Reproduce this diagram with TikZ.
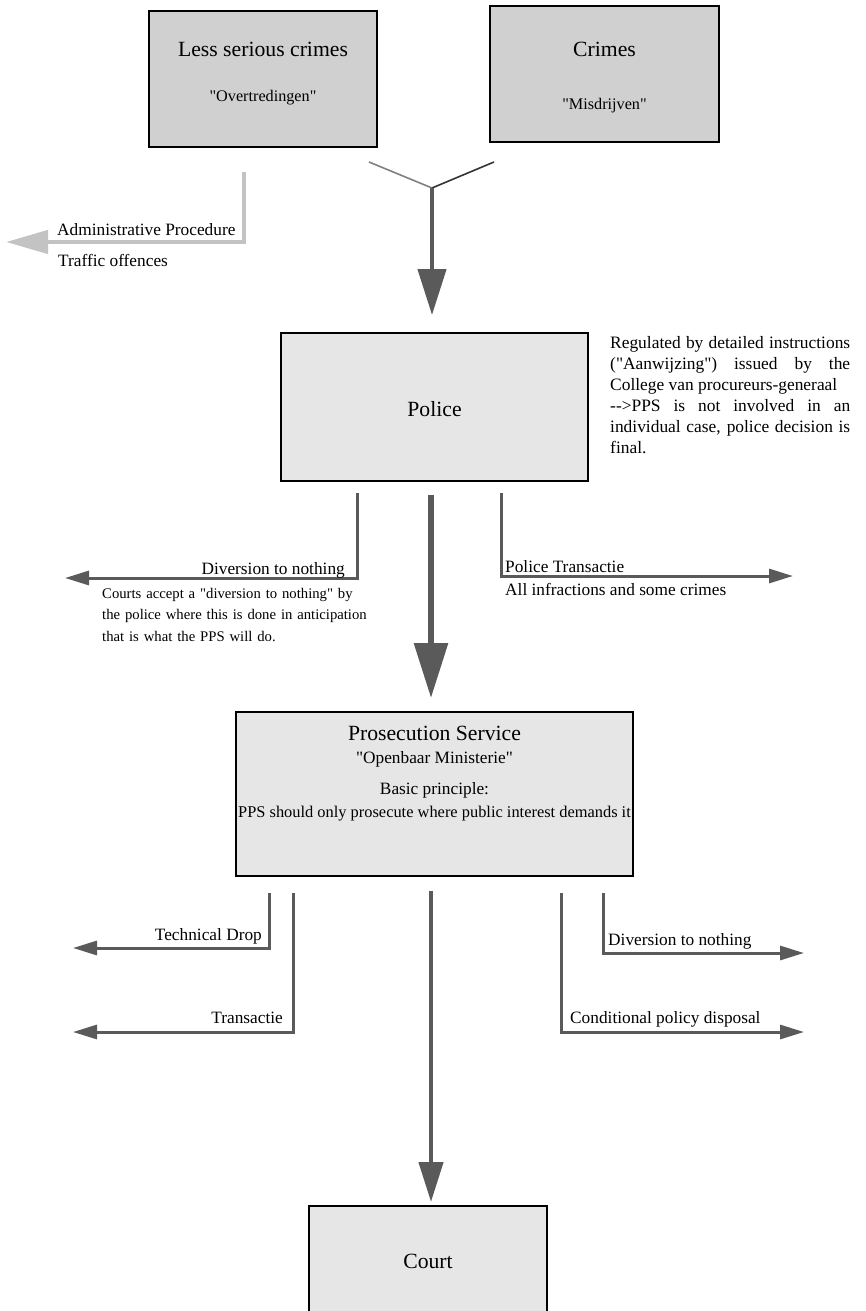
\documentclass[tikz,border=0pt]{standalone}
\usepackage{fontspec}
\setmainfont{Liberation Serif}
\usetikzlibrary{arrows.meta}

\definecolor{boxdark}{HTML}{D0D0D0}
\definecolor{boxlight}{HTML}{E6E6E6}
\definecolor{flow}{HTML}{5A5A5A}
\definecolor{adminflow}{HTML}{C3C3C3}
\definecolor{branchlight}{HTML}{808080}
\definecolor{branchdark}{HTML}{333333}

% straight double quote
\newcommand{\dq}{\textquotedbl}

\tikzset{
  box/.style={draw=black, line width=1.4pt, inner sep=0pt},
  title/.style={font=\fontsize{21.7}{26}\selectfont, inner sep=0pt, anchor=base},
  quoted/.style={font=\fontsize{16.2}{19}\selectfont, inner sep=0pt, anchor=base},
  lbl/.style={font=\fontsize{17.3}{21}\selectfont, inner sep=0pt},
  note/.style={font=\fontsize{14.7}{21.8}\selectfont, inner sep=0pt,
    text width=300pt, align=left},
  branch/.style={line width=1.6pt},
  mainflow/.style={draw=flow, line join=miter},
  side/.style={draw=flow, line width=3pt, line join=miter,
    -{Triangle[length=24pt,width=14pt]}},
  admin/.style={draw=adminflow, line width=4.5pt, line join=miter,
    -{Triangle[length=42pt,width=23pt]}},
}

\begin{document}
\begin{tikzpicture}[x=1pt,y=-1pt]
\useasboundingbox (0,0) rectangle (866,1311);
\clip (0,0) rectangle (866,1311);

% --- offence categories ---
\node[box, fill=boxdark, minimum width=228pt, minimum height=136pt] (lesser) at (263,79) {};
\node[title] (lesserT) at (263,57) {Less serious crimes};
\node[quoted] (lesserQ) at (263,102) {\dq Overtredingen\dq};

\node[box, fill=boxdark, minimum width=229pt, minimum height=136pt] (crimes) at (604.5,74) {};
\node[title] (crimesT) at (604.5,57) {Crimes};
\node[quoted] (crimesQ) at (604.5,110) {\dq Misdrijven\dq};

% --- merge into police ---
\coordinate (yl) at (369,162);
\coordinate (yr) at (494,162);
\coordinate (yj) at (432,188);
\coordinate (policeIn) at (432,315);
\draw[branch, branchlight] (yl) -- (yj);
\draw[branch, branchdark] (yr) -- (yj);
\draw[mainflow, line width=4.5pt, -{Triangle[length=46pt,width=28pt]}] (yj) -- (policeIn);

% --- administrative route ---
\coordinate (admTop) at (244,172);
\coordinate (admEnd) at (6,242);
\draw[admin] (admTop) |- (admEnd);
\node[lbl, anchor=base west] (admA) at (57,235) {Administrative Procedure};
\node[lbl, anchor=base west] (admB) at (58,266) {Traffic offences};

% --- police ---
\node[box, fill=boxlight, minimum width=307pt, minimum height=148pt] (police) at (434.5,407) {};
\node[title] (policeT) at (434.5,416) {Police};

\node[font=\fontsize{17.4}{21}\selectfont, inner sep=0pt, text width=240pt,
      align=justify, anchor=base west] (policeNote) at (610,348)
  {Regulated by detailed instructions\linebreak
   (\dq Aanwijzing\dq) issued by the\linebreak
   College van procureurs-generaal\\
   -{}->PPS is not involved in an\linebreak
   individual case, police decision is\linebreak
   final.};

% police branches
\coordinate (pDivTop) at (357,493);
\coordinate (pDivEnd) at (65,578);
\draw[side] (pDivTop) |- (pDivEnd);
\node[lbl, anchor=base east] (pDivL) at (345,574) {Diversion to nothing};
\node[note, anchor=base west] (pDivN) at (102,598)
  {Courts accept a \dq diversion to nothing\dq{} by\\
   the police where this is done in anticipation\\
   that is what the PPS will do.};

\coordinate (pTrTop) at (501,493);
\coordinate (pTrEnd) at (793,576);
\draw[side] (pTrTop) |- (pTrEnd);
\node[lbl, anchor=base west] (pTrA) at (505,572) {Police Transactie};
\node[lbl, anchor=base west] (pTrB) at (505,595) {All infractions and some crimes};

\coordinate (pMainTop) at (431,495);
\coordinate (ppsIn) at (431,698);
\draw[mainflow, line width=6pt, -{Triangle[length=55pt,width=33pt]}] (pMainTop) -- (ppsIn);

% --- prosecution service ---
\node[box, fill=boxlight, minimum width=397pt, minimum height=164pt] (pps) at (434.5,794) {};
\node[title] (ppsT) at (434.5,740) {Prosecution Service};
\node[lbl, anchor=base] (ppsQ) at (434.5,763) {\dq Openbaar Ministerie\dq};
\node[lbl, anchor=base] (ppsP) at (434.5,794) {Basic principle:};
\node[lbl, anchor=base, font=\fontsize{16.4}{21}\selectfont] (ppsR) at (434.5,817)
  {PPS should only prosecute where public interest demands it};

% prosecution branches
\coordinate (tdTop) at (269,893);
\coordinate (tdEnd) at (73,948);
\draw[side] (tdTop) |- (tdEnd);
\node[lbl, anchor=base east] (tdL) at (262,940) {Technical Drop};

\coordinate (trTop) at (293,893);
\coordinate (trEnd) at (73,1032);
\draw[side] (trTop) |- (trEnd);
\node[lbl, anchor=base east] (trL) at (283,1023) {Transactie};

\coordinate (dnTop) at (603,893);
\coordinate (dnEnd) at (804,953);
\draw[side] (dnTop) |- (dnEnd);
\node[lbl, anchor=base west] (dnL) at (608,945) {Diversion to nothing};

\coordinate (cpTop) at (561,893);
\coordinate (cpEnd) at (804,1032);
\draw[side] (cpTop) |- (cpEnd);
\node[lbl, anchor=base west] (cpL) at (570,1023) {Conditional policy disposal};

\coordinate (ppsMainTop) at (431,891);
\coordinate (courtIn) at (431,1202);
\draw[mainflow, line width=4.5pt, -{Triangle[length=40pt,width=24pt]}] (ppsMainTop) -- (courtIn);

% --- court ---
\node[box, fill=boxlight, minimum width=238pt, minimum height=150pt] (court) at (428,1281) {};
\node[title] (courtT) at (428,1268) {Court};
\end{tikzpicture}
\end{document}
